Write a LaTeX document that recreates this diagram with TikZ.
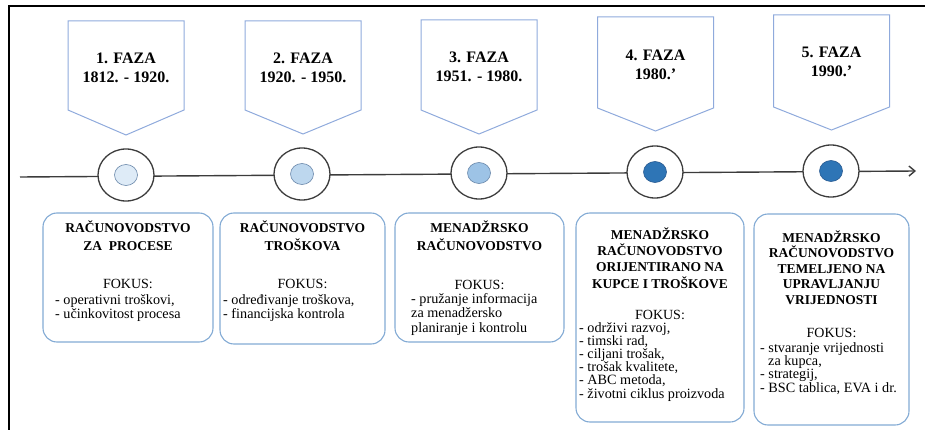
\documentclass[tikz,border=0pt]{standalone}
\usepackage{fontspec}
\setmainfont{Liberation Serif}
\usetikzlibrary{shapes.geometric,arrows.meta}
\definecolor{pentc}{RGB}{143,170,220}
\definecolor{boxc}{RGB}{130,170,212}
\definecolor{linec}{RGB}{60,60,60}
\definecolor{fillA}{RGB}{222,235,247}
\definecolor{fillB}{RGB}{189,215,238}
\definecolor{fillC}{RGB}{157,195,230}
\definecolor{fillD}{RGB}{46,117,182}
\definecolor{edgeL}{RGB}{105,135,170}
\definecolor{edgeD}{RGB}{40,90,145}
\tikzset{
  pent/.style={draw=pentc,line width=1pt},
  phasetext/.style={font=\fontsize{16}{19}\selectfont\bfseries,align=center,inner sep=0pt,anchor=base},
  outerring/.style={ellipse,draw=linec,line width=1.3pt,fill=white,minimum width=56pt,minimum height=52pt,inner sep=0pt},
  innerdot/.style={ellipse,line width=0.6pt,minimum width=23pt,minimum height=21pt,inner sep=0pt},
  fbox/.style={draw=boxc,line width=1.1pt,rounded corners=14pt},
  titletext/.style={font=\fontsize{13.5}{#1}\selectfont\bfseries,align=center,inner sep=0pt,anchor=base},
  fokustext/.style={font=\fontsize{14}{14}\selectfont,inner sep=0pt,anchor=base},
  itemtext/.style={font=\fontsize{14.2}{#1}\selectfont,align=left,inner sep=0pt,anchor=base west},
}
\newcommand{\pentpath}[4]{% x, top, sidebottom, tip
  \draw[pent] ({#1-58},#2) -- ({#1+58},#2) -- ({#1+58},#3) -- (#1,#4) -- ({#1-58},#3) -- cycle;}
\begin{document}
\begin{tikzpicture}[x=1pt,y=-1pt]
\useasboundingbox (0,0) rectangle (925,430);
% frame
\draw[line width=2pt,black] (9,431) -- (9,6) -- (926,6);

% phase pentagons
\pentpath{126}{21}{110}{135}
\pentpath{303}{21}{110}{134}
\pentpath{479}{20}{110}{134}
\pentpath{655.5}{17}{108}{131}
\pentpath{831.5}{15}{107}{130}
% (base anchor = baseline of the last line)
\node[phasetext] (ph1) at (126,82.5) {1. FAZA\\1812. - 1920.};
\node[phasetext] (ph2) at (303,82.5) {2. FAZA\\1920. - 1950.};
\node[phasetext] (ph3) at (479,81.5) {3. FAZA\\1951. - 1980.};
\node[phasetext] (ph4) at (655.5,79.5) {4. FAZA\\1980.’};
\node[phasetext] (ph5) at (831.5,76.5) {5. FAZA\\1990.’};

% timeline
\coordinate (tlstart) at (20,177);
\coordinate (tlend) at (916,171);
\draw[linec,line width=1.4pt,-{Straight Barb[length=6pt,width=10pt,line width=1.4pt]}] (tlstart) -- (tlend);

\node[outerring] (r1) at (126,175) {};
\node[outerring] (r2) at (302,174) {};
\node[outerring] (r3) at (479,173) {};
\node[outerring] (r4) at (655,172) {};
\node[outerring] (r5) at (831,171) {};
\node[innerdot,fill=fillA,draw=edgeL] (d1) at (r1) {};
\node[innerdot,fill=fillB,draw=edgeL] (d2) at (r2) {};
\node[innerdot,fill=fillC,draw=edgeL] (d3) at (r3) {};
\node[innerdot,fill=fillD,draw=edgeD] (d4) at (r4) {};
\node[innerdot,fill=fillD,draw=edgeD] (d5) at (r5) {};

% boxes
\draw[fbox] (43,213) rectangle (213,342);
\draw[fbox] (220,213) rectangle (385,344);
\draw[fbox] (395,213) rectangle (564,342);
\draw[fbox] (576,213) rectangle (744,422);
\draw[fbox] (754,214) rectangle (909,425);

% box 1
\node[titletext=18] (t1) at (128,250.5) {RAČUNOVODSTVO\\ZA\ \ PROCESE};
\node[fokustext] (f1) at (128,288.5) {FOKUS:};
\node[itemtext=13.8] (i1) at (55,318) {- operativni troškovi,\\- učinkovitost procesa};

% box 2
\node[titletext=18] (t2) at (302.5,250.5) {RAČUNOVODSTVO\\TROŠKOVA};
\node[fokustext] (f2) at (302.5,288) {FOKUS:};
\node[itemtext=14] (i2) at (223,318) {- određivanje troškova,\\- financijska kontrola};

% box 3
\node[titletext=18] (t3) at (479.5,250.5) {MENADŽRSKO\\RAČUNOVODSTVO};
\node[fokustext] (f3) at (479.5,289.5) {FOKUS:};
\node[itemtext=14.5] (i3) at (411,332) {- pružanje informacija\\za menadžersko\\planiranje i kontrolu};

% box 4
\node[titletext=16.3] (t4) at (660,288) {MENADŽRSKO\\RAČUNOVODSTVO\\ORIJENTIRANO NA\\KUPCE I TROŠKOVE};
\node[fokustext] (f4) at (660,319) {FOKUS:};
\node[itemtext=13.2] (i4) at (579,398) {- održivi razvoj,\\- timski rad,\\- ciljani trošak,\\- trošak kvalitete,\\- ABC metoda,\\- životni ciklus proizvoda};

% box 5
\node[titletext=15.5] (t5) at (831.5,304) {MENADŽRSKO\\RAČUNOVODSTVO\\TEMELJENO NA\\UPRAVLJANJU\\VRIJEDNOSTI};
\node[fokustext] (f5) at (831.5,337) {FOKUS:};
\node[itemtext=13.3] (i5) at (760,392) {- stvaranje vrijednosti\\\hspace*{8pt}za kupca,\\- strategij,\\- BSC tablica, EVA i dr.};
\end{tikzpicture}
\end{document}
